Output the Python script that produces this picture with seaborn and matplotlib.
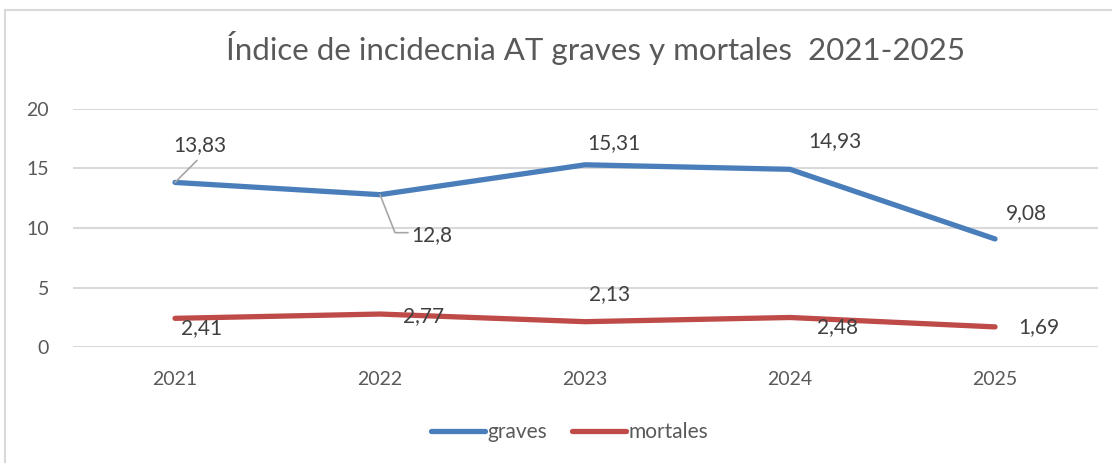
import matplotlib
matplotlib.use("Agg")
import matplotlib.pyplot as plt
import seaborn as sns
import pandas as pd
from matplotlib.lines import Line2D

years = ["2021", "2022", "2023", "2024", "2025"]
graves = [13.83, 12.8, 15.31, 14.93, 9.08]
mortales = [2.41, 2.77, 2.13, 2.48, 1.69]
series_names = ["graves", "mortales"]
yticks = [0, 5, 10, 15, 20]
title = "Índice de incidecnia AT graves y mortales  2021-2025"

sns.set_theme(style="white")
plt.rcParams["font.family"] = ["Lato", "DejaVu Sans"]

BLUE = "#4A7EBB"
RED = "#BE4B48"
TXT = "#595959"
GRID = "#D9D9D9"

df = pd.DataFrame({
    "year": years * 2,
    "value": graves + mortales,
    "serie": [series_names[0]] * len(years) + [series_names[1]] * len(years),
})

fig = plt.figure(figsize=(11.12, 4.63), dpi=100)
ax = fig.add_axes([0.0652, 0.2505, 0.987 - 0.0652, 0.7646 - 0.2505])

sns.lineplot(data=df, x="year", y="value", hue="serie", palette=[BLUE, RED],
             linewidth=3.8, ax=ax, legend=False, sort=False)
for ln in ax.get_lines():
    ln.set_solid_capstyle("round")
    ln.set_solid_joinstyle("round")

ax.set_xlim(-0.5, len(years) - 0.5)
ax.set_ylim(0, 20)
ax.set_yticks(yticks)
ax.set_yticklabels([str(t) for t in yticks])
ax.yaxis.grid(True, color=GRID, linewidth=1.5)
ax.xaxis.grid(False)
ax.set_axisbelow(True)
for s in ax.spines.values():
    s.set_visible(False)
ax.set_xlabel("")
ax.set_ylabel("")
ax.tick_params(axis="y", length=0, pad=17, labelsize=14, labelcolor=TXT)
ax.tick_params(axis="x", length=0, pad=17, labelsize=14, labelcolor=TXT)

def fmt(v):
    s = f"{v:.2f}".rstrip("0").rstrip(".")
    return s.replace(".", ",")

g_off = [(25, 37), (52, -40), (29, 22), (45, 28), (31, 26)]
m_off = [(27, -10), (44, -2), (25, 28), (47, -10), (44, 0)]
for i, (v, o) in enumerate(zip(graves, g_off)):
    ax.annotate(fmt(v), (i, v), xytext=o, textcoords="offset pixels",
                ha="center", va="center", fontsize=15, color="#404040")
for i, (v, o) in enumerate(zip(mortales, m_off)):
    ax.annotate(fmt(v), (i, v), xytext=o, textcoords="offset pixels",
                ha="center", va="center", fontsize=15, color="#404040")

def leader(i, v, pts):
    disp = ax.transData.transform((i, v))
    coords = [fig.transFigure.inverted().transform((disp[0] + dx, disp[1] + dy)) for dx, dy in pts]
    fig.add_artist(Line2D([c[0] for c in coords], [c[1] for c in coords],
                          color="#A6A6A6", linewidth=1.2))

fig.canvas.draw()
leader(0, graves[0], [(0, 0), (22, 22)])
leader(1, graves[1], [(0, 0), (15, -38), (28, -38)])

fig.suptitle(title, x=0.536, y=0.932, fontsize=22.5, color=TXT)

handles = [Line2D([0], [0], color=BLUE, lw=3.8, solid_capstyle="round"),
           Line2D([0], [0], color=RED, lw=3.8, solid_capstyle="round")]
leg = fig.legend(handles, series_names, loc="center", bbox_to_anchor=(0.512, 0.067),
                 ncol=2, frameon=False, fontsize=15, handlelength=2.6,
                 handletextpad=0.1, columnspacing=1.2)
for t in leg.get_texts():
    t.set_color(TXT)

fig.add_artist(Line2D([0.0045, 0.0045], [0, 1 - 10 / 463], color=GRID, lw=1.5))
fig.add_artist(Line2D([0.0045, 1], [1 - 10 / 463, 1 - 10 / 463], color=GRID, lw=1.5))

fig.savefig("out.png", dpi=100)
